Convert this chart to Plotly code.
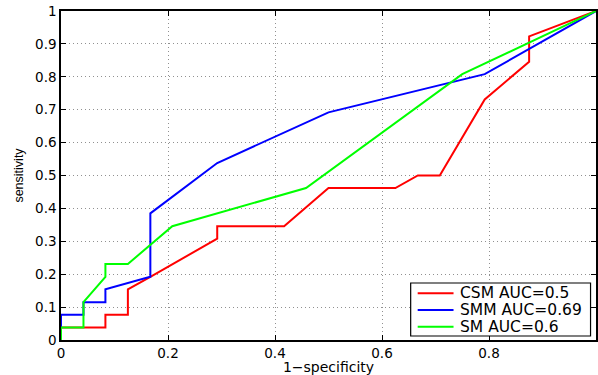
import plotly.graph_objects as go

# CSM AUC=0.5
csm_x = [0, 0, 0.083, 0.083, 0.125, 0.125, 0.167, 0.292, 0.292, 0.417, 0.5, 0.625, 0.667, 0.708, 0.792, 0.875, 0.875, 1.0]
csm_y = [0, 0.038, 0.038, 0.077, 0.077, 0.154, 0.192, 0.308, 0.346, 0.346, 0.462, 0.462, 0.5, 0.5, 0.731, 0.846, 0.923, 1.0]
# SMM AUC=0.69
smm_x = [0, 0, 0.042, 0.042, 0.083, 0.083, 0.167, 0.167, 0.292, 0.5, 0.792, 1.0]
smm_y = [0, 0.077, 0.077, 0.115, 0.115, 0.154, 0.192, 0.385, 0.538, 0.692, 0.808, 1.0]
# SM AUC=0.6
sm_x = [0, 0, 0.042, 0.042, 0.083, 0.083, 0.125, 0.208, 0.458, 0.75, 1.0]
sm_y = [0, 0.038, 0.038, 0.115, 0.192, 0.231, 0.231, 0.346, 0.462, 0.808, 1.0]

names = ["CSM AUC=0.5", "SMM AUC=0.69", "SM AUC=0.6"]
colors = ["#ff0000", "#0000ff", "#00ff00"]
xs_all = [csm_x, smm_x, sm_x]
ys_all = [csm_y, smm_y, sm_y]

x_ticks = [0, 0.2, 0.4, 0.6, 0.8, 1]
x_tick_text = ["0", "0.2", "0.4", "0.6", "0.8", "1"]
y_ticks = [i / 10 for i in range(11)]
y_tick_text = ["0", "0.1", "0.2", "0.3", "0.4", "0.5", "0.6", "0.7", "0.8", "0.9", "1"]

fig = go.Figure()
for name, xs, ys, col in zip(names, xs_all, ys_all, colors):
    fig.add_trace(go.Scatter(x=xs, y=ys, mode="lines", name=name,
                             line=dict(color=col, width=2), showlegend=False))

tick_font = dict(family="DejaVu Sans, sans-serif", size=13.5, color="black")
axis_common = dict(
    showline=True, linecolor="black", linewidth=1.5, mirror="ticks",
    ticks="inside", ticklen=5, tickcolor="black", tickwidth=1,
    showgrid=True, gridcolor="#909090", griddash="1px,3px", gridwidth=1,
    zeroline=False, tickfont=tick_font,
)

# Legend box drawn in plot-area (paper) coordinates
lx0, lx1, ly0, ly1 = 0.6536, 0.9898, 0.0122, 0.1733
row_y = [0.142, 0.0912, 0.0404]
shapes = [dict(type="rect", xref="paper", yref="paper", x0=lx0, x1=lx1, y0=ly0, y1=ly1,
               line=dict(color="black", width=1.2), fillcolor="white", layer="above")]
annotations = []
for name, col, ry in zip(names, colors, row_y):
    shapes.append(dict(type="line", xref="paper", yref="paper", x0=0.6667, x1=0.7337,
                       y0=ry, y1=ry, line=dict(color=col, width=2), layer="above"))
    annotations.append(dict(xref="paper", yref="paper", x=0.742, y=ry, text=name,
                            showarrow=False, xanchor="left", yanchor="middle",
                            font=dict(family="DejaVu Sans, sans-serif", size=15.5, color="black")))

fig.update_layout(
    width=598, height=375,
    margin=dict(l=61, r=0, t=11, b=35),
    paper_bgcolor="white", plot_bgcolor="white",
    showlegend=False,
    shapes=shapes, annotations=annotations,
)
fig.update_xaxes(range=[0, 1], tickvals=x_ticks, ticktext=x_tick_text,
                 title=dict(text="1\u2212specificity",
                            font=dict(family="DejaVu Sans, sans-serif", size=14, color="black"),
                            standoff=0),
                 **axis_common)
fig.update_yaxes(range=[0, 1], tickvals=y_ticks, ticktext=y_tick_text,
                 title=dict(text="sensitivity",
                            font=dict(family="Liberation Sans, Arial, sans-serif", size=12.5, color="black"),
                            standoff=9),
                 **axis_common)

fig.write_html("out.html")
